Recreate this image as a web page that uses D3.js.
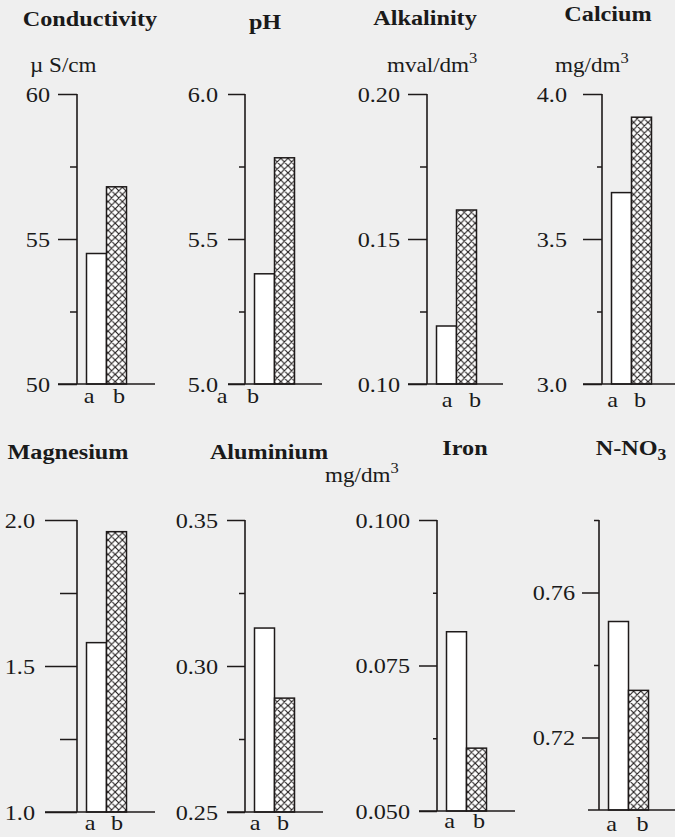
<!DOCTYPE html>
<html>
<head>
<meta charset="utf-8">
<script src="https://cdn.jsdelivr.net/npm/d3@7"></script>
<style>
  html, body { margin: 0; padding: 0; background: #efefef; }
  svg { display: block; }
  text { font-family: "Liberation Serif", "Times New Roman", serif; fill: #1a1a1a; }
</style>
</head>
<body>
<svg id="chart" width="675" height="837"></svg>
<script>
// ---- data ----
const panelNames = ["Conductivity", "pH", "Alkalinity", "Calcium", "Magnesium", "Aluminium", "Iron", "N-NO3"];
const groups = ["a", "b"];
const valuesA = [54.5, 5.38, 0.120, 3.66, 1.58, 0.313, 0.0808, 0.752];
const valuesB = [56.8, 5.78, 0.160, 3.92, 1.96, 0.289, 0.0608, 0.733];
const domains = [[50, 60], [5, 6], [0.10, 0.20], [3, 4], [1, 2], [0.25, 0.35], [0.05, 0.10], [0.70, 0.78]];
const majorTicks = [[50, 55, 60], [5, 5.5, 6], [0.10, 0.15, 0.20], [3, 3.5, 4], [1, 1.5, 2], [0.25, 0.30, 0.35], [0.05, 0.075, 0.10], [0.72, 0.76]];
const minorTicks = [[52.5, 57.5], [5.25, 5.75], [0.125, 0.175], [3.25, 3.75], [1.25, 1.75], [0.275, 0.325], [0.0625, 0.0875], [0.74, 0.78]];
const tickFormats = ["d", ".1f", ".2f", ".1f", ".1f", ".2f", ".3f", ".2f"];
const unitBase = ["µ S/cm", "", "mval/dm", "mg/dm", "", "", "mg/dm", ""];
const unitSup = ["", "", "3", "3", "", "", "3", ""];

// ---- layout (positions only) ----
const layout = [
  {ax: 77,  top: 94,  bot: 384, maj: 19, min: 7,  baseEnd: 155, la: 12,  lb: 42,  ly: 403, lr: 50,  tx: 90,  ty: 26,  ux: 30,  uy: 72},
  {ax: 245, top: 94,  bot: 384, maj: 17, min: 6,  baseEnd: 322, la: -23, lb: 8,   ly: 403, lr: 218, tx: 265, ty: 29,  ux: 0,   uy: 0},
  {ax: 427, top: 94,  bot: 384, maj: 19, min: 7,  baseEnd: 503, la: 20,  lb: 48,  ly: 407, lr: 400, tx: 425, ty: 25,  ux: 387, uy: 72},
  {ax: 602, top: 94,  bot: 384, maj: 19, min: 5,  baseEnd: 675, la: 10.5,lb: 38,  ly: 407, lr: 567, tx: 608, ty: 21,  ux: 555, uy: 72},
  {ax: 77,  top: 520, bot: 812, maj: 32, min: 17, baseEnd: 155, la: 13,  lb: 40,  ly: 830, lr: 35,  tx: 68,  ty: 459, ux: 0,   uy: 0},
  {ax: 245, top: 520, bot: 812, maj: 18, min: 6,  baseEnd: 323, la: 10,  lb: 38,  ly: 830, lr: 218, tx: 269, ty: 459, ux: 0,   uy: 0},
  {ax: 437, top: 520, bot: 811, maj: 18, min: 4,  baseEnd: 515, la: 12.5,lb: 42,  ly: 828, lr: 410, tx: 465, ty: 455, ux: 325, uy: 482},
  {ax: 599, top: 520, bot: 810, maj: 17, min: 5,  baseEnd: 675, la: 12.5,lb: 43.5,ly: 831, lr: 575, tx: 631, ty: 455, ux: 0,   uy: 0}
];

const SX = 1.1;           // horizontal stretch of the scanned lettering
const FS = 22;
const INK = "#1e1a1a";
const svg = d3.select("#chart");

svg.append("rect").attr("width", 675).attr("height", 837).attr("fill", "#efefef");

// cross-hatch pattern
const P = 7.2;
const defs = svg.append("defs");
const pat = defs.append("pattern")
  .attr("id", "xhatch").attr("patternUnits", "userSpaceOnUse")
  .attr("width", P).attr("height", P);
pat.append("rect").attr("width", P).attr("height", P).attr("fill", "#ffffff");
pat.append("path").attr("d", `M0,0 L${P},${P} M${P},0 L0,${P} M-1,${P-1} L1,${P+1} M${P-1},-1 L${P+1},1 M${P-1},${P+1} L${P+1},${P-1} M-1,1 L1,-1`)
  .attr("stroke", INK).attr("stroke-width", 1.1);

function stretchedText(g, x, y, anchor, size, weight) {
  return g.append("text")
    .attr("transform", `translate(${x},${y}) scale(${SX},1)`)
    .attr("text-anchor", anchor)
    .attr("font-size", size)
    .attr("font-weight", weight || "normal");
}

panelNames.forEach((name, i) => {
  const L = layout[i];
  const g = svg.append("g");
  const y = d3.scaleLinear().domain(domains[i]).range([L.bot, L.top]);
  const x = d3.scaleBand().domain(groups).range([L.ax + 9.5, L.ax + 49.5]).paddingInner(0).paddingOuter(0);
  const vals = [valuesA[i], valuesB[i]];

  // bars
  g.selectAll("rect.bar").data(groups).join("rect")
    .attr("class", "bar")
    .attr("x", d => x(d))
    .attr("width", x.bandwidth())
    .attr("y", (d, k) => y(vals[k]))
    .attr("height", (d, k) => L.bot - y(vals[k]))
    .attr("fill", d => d === "a" ? "#ffffff" : "url(#xhatch)")
    .attr("stroke", INK).attr("stroke-width", 1.5);

  // major ticks with labels (d3 axis)
  const fmt = d3.format(tickFormats[i]);
  const axMajor = d3.axisLeft(y).tickValues(majorTicks[i]).tickSize(L.maj).tickPadding(L.ax - L.maj - L.lr).tickFormat(fmt);
  const ga = g.append("g").attr("transform", `translate(${L.ax},0)`).call(axMajor);
  ga.attr("font-family", null).attr("font-size", null);
  ga.select(".domain").remove();
  ga.selectAll(".tick line").attr("stroke", INK).attr("stroke-width", 1.5);
  ga.selectAll(".tick text")
    .attr("font-size", FS).attr("fill", "#1a1a1a")
    .attr("dy", "0.33em")
    .attr("transform", function () {
      const tx = +d3.select(this).attr("x");
      return `translate(${tx * (1 - SX)},0) scale(${SX},1)`;
    });

  // minor ticks
  const axMinor = d3.axisLeft(y).tickValues(minorTicks[i]).tickSize(L.min).tickFormat("");
  const gm = g.append("g").attr("transform", `translate(${L.ax},0)`).call(axMinor);
  gm.select(".domain").remove();
  gm.selectAll(".tick line").attr("stroke", INK).attr("stroke-width", 1.5);

  // vertical axis line
  g.append("line").attr("x1", L.ax).attr("x2", L.ax)
    .attr("y1", y(domains[i][1])).attr("y2", L.bot)
    .attr("stroke", INK).attr("stroke-width", 1.6);

  // baseline
  const baseStart = (i === 7) ? L.ax - 11 : L.ax - L.maj;
  g.append("line").attr("x1", baseStart).attr("x2", L.baseEnd)
    .attr("y1", L.bot).attr("y2", L.bot)
    .attr("stroke", INK).attr("stroke-width", 1.6);

  // category labels
  stretchedText(g, L.ax + L.la, L.ly, "middle", FS).text(groups[0]);
  stretchedText(g, L.ax + L.lb, L.ly, "middle", FS).text(groups[1]);

  // title
  const t = stretchedText(g, L.tx, L.ty, "middle", FS, "bold");
  if (name === "N-NO3") {
    t.append("tspan").text("N-NO");
    t.append("tspan").attr("font-size", 16).attr("dy", 5).text("3");
  } else {
    t.text(name);
  }

  // unit
  if (unitBase[i]) {
    const u = stretchedText(g, L.ux, L.uy, "start", 21);
    u.append("tspan").text(unitBase[i]);
    if (unitSup[i]) u.append("tspan").attr("font-size", 15).attr("dy", -9).text(unitSup[i]);
  }
});
</script>
</body>
</html>
